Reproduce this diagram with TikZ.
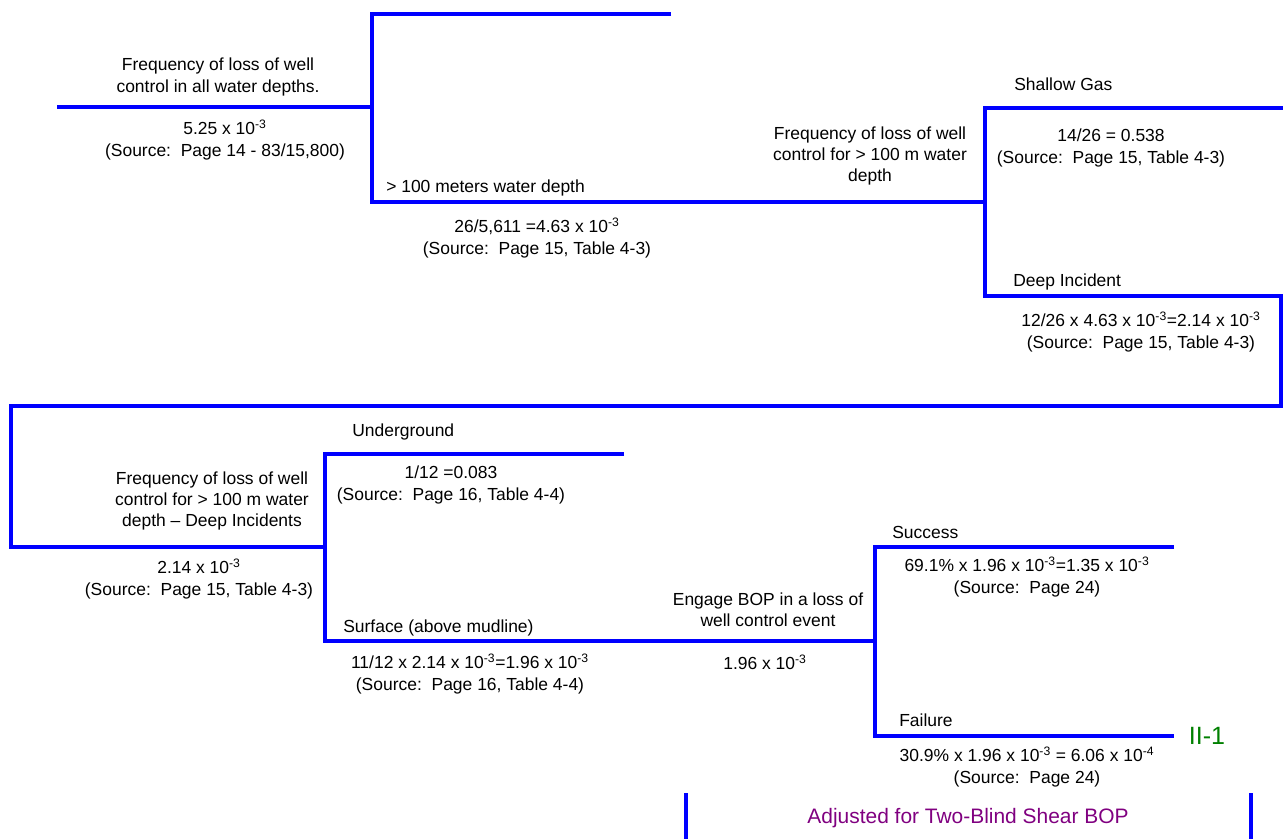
\documentclass[tikz,border=0pt]{standalone}
\usepackage{fontspec}
\setmainfont{Liberation Sans}
\definecolor{treeblue}{HTML}{0000FF}
\definecolor{endgreen}{HTML}{008000}
\definecolor{notepurple}{HTML}{800080}
\newcommand\tenpow[1]{10\textsuperscript{#1}}
\begin{document}
\begin{tikzpicture}[x=0.75pt,y=-0.75pt,
  branch/.style={draw=treeblue,line width=3pt,line join=miter},
  lbl/.style={inner sep=0pt,font=\fontsize{13.1}{16.1}\selectfont,align=center},
  tag/.style={lbl,anchor=base west}]
\useasboundingbox (0,0) rectangle (1283,839);

% junctions and branch ends
\coordinate (r0)  at (57,107);
\coordinate (j1)  at (372,107);
\coordinate (j1t) at (372,14);
\coordinate (e1t) at (671,14);
\coordinate (j1b) at (372,202);
\coordinate (j2)  at (985,202);
\coordinate (j2t) at (985,108);
\coordinate (e2t) at (1283,108);
\coordinate (j2b) at (985,296);
\coordinate (w1)  at (1281,296);
\coordinate (w2)  at (1281,406);
\coordinate (w3)  at (11,406);
\coordinate (w4)  at (11,547);
\coordinate (j3)  at (325,547);
\coordinate (j3t) at (325,454);
\coordinate (e3t) at (624,454);
\coordinate (j3b) at (325,641);
\coordinate (j4)  at (875,641);
\coordinate (j4t) at (875,547);
\coordinate (e4t) at (1174,547);
\coordinate (j4b) at (875,736);
\coordinate (e4b) at (1174,736);
\coordinate (b1t) at (686,793);
\coordinate (b1b) at (686,839);
\coordinate (b2t) at (1251,793);
\coordinate (b2b) at (1251,839);

% tree branches
\draw[branch] (r0) -- (j1);
\draw[branch] (e1t) -- (j1t) -- (j1b) -- (j2);
\draw[branch] (e2t) -- (j2t) -- (j2b) -- (w1) -- (w2) -- (w3) -- (w4) -- (j3);
\draw[branch] (e3t) -- (j3t) -- (j3b) -- (j4);
\draw[branch] (e4t) -- (j4t) -- (j4b) -- (e4b);
\draw[branch] (b1t) -- (b1b);
\draw[branch] (b2t) -- (b2b);

% labels
\node[lbl] (t1) at (218,77) {Frequency of loss of well\\control in all water depths.};
\node[lbl] (v1) at (225,140) {5.25 x \tenpow{-3}\\(Source:\ \ Page 14 - 83/15,800)};
\node[tag] (t2) at (386,192) {> 100 meters water depth};
\node[lbl] (v2) at (537,238) {26/5,611 =4.63 x \tenpow{-3}\\(Source:\ \ Page 15, Table 4-3)};
\node[lbl] (t3) at (870,156) {Frequency of loss of well\\control for > 100 m water\\depth};
\node[tag] (sg) at (1014,90) {Shallow Gas};
\node[lbl] (v3) at (1111,148) {14/26 = 0.538\\(Source:\ \ Page 15, Table 4-3)};
\node[tag] (di) at (1013,286) {Deep Incident};
\node[lbl] (v4) at (1141,332) {12/26 x 4.63 x \tenpow{-3}=2.14 x \tenpow{-3}\\(Source:\ \ Page 15, Table 4-3)};
\node[tag] (ug) at (352,436) {Underground};
\node[lbl] (v5) at (451,485) {1/12 =0.083\\(Source:\ \ Page 16, Table 4-4)};
\node[lbl] (t4) at (212,501) {Frequency of loss of well\\control for > 100 m water\\depth -- Deep Incidents};
\node[lbl] (v6) at (199,579) {2.14 x \tenpow{-3}\\(Source:\ \ Page 15, Table 4-3)};
\node[tag] (sf) at (343,632) {Surface (above mudline)};
\node[lbl] (v7) at (470,674) {11/12 x 2.14 x \tenpow{-3}=1.96 x \tenpow{-3}\\(Source:\ \ Page 16, Table 4-4)};
\node[lbl] (t5) at (768,610) {Engage BOP in a loss of\\well control event};
\node[lbl] (v8) at (765,662) {1.96 x \tenpow{-3}};
\node[tag] (sc) at (892,538) {Success};
\node[lbl] (v9) at (1027,577) {69.1\% x 1.96 x \tenpow{-3}=1.35 x \tenpow{-3}\\(Source:\ \ Page 24)};
\node[tag] (fl) at (899,726) {Failure};
\node[lbl] (v10) at (1027,767) {30.9\% x 1.96 x \tenpow{-3} = 6.06 x \tenpow{-4}\\(Source:\ \ Page 24)};
\node[inner sep=0pt,text=endgreen,font=\fontsize{18.75}{22}\selectfont] (end) at (1207,736) {II-1};
\node[inner sep=0pt,text=notepurple,font=\fontsize{15.7}{18}\selectfont] (note) at (968,818) {Adjusted for Two-Blind Shear BOP};
\end{tikzpicture}
\end{document}
